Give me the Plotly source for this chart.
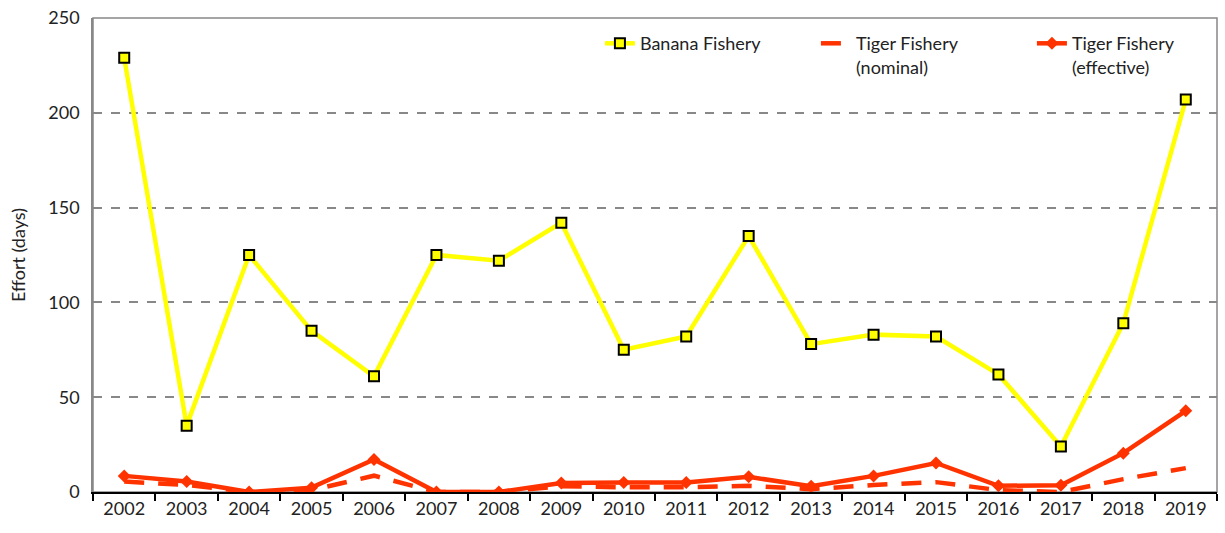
import plotly.graph_objects as go

years = [str(y) for y in range(2002, 2020)]
banana = [229, 35, 125, 85, 61, 125, 122, 142, 75, 82, 135, 78, 83, 82, 62, 24, 89, 207]
tiger_nominal = [5.5, 3.7, 0, 1, 8.6, 0, 0, 3, 2.5, 2.5, 3.3, 1.5, 3.7, 5.2, 1, 0, 6.8, 12.6]
tiger_effective = [8.5, 5.5, 0, 2.3, 17.2, 0, 0, 4.8, 5, 5, 8, 3, 8.5, 15.3, 3.3, 3.5, 20.5, 42.8]

font_family = "Lato, 'Noto Sans', sans-serif"

fig = go.Figure()
fig.add_trace(go.Scatter(
    x=years, y=banana, name="Banana Fishery", mode="lines+markers",
    line=dict(color="#FFFF00", width=4.5),
    marker=dict(symbol="square", size=10, color="#FFFF00", line=dict(color="black", width=2)),
))
fig.add_trace(go.Scatter(
    x=years, y=tiger_nominal, name="Tiger Fishery<br>(nominal)", mode="lines",
    line=dict(color="#FF3300", width=4.5, dash="20px,14px"),
))
fig.add_trace(go.Scatter(
    x=years, y=tiger_effective, name="Tiger Fishery<br>(effective)", mode="lines+markers",
    line=dict(color="#FF3300", width=4.5),
    marker=dict(symbol="diamond", size=10, color="#FF3300"),
))

fig.update_layout(
    width=1225, height=533,
    margin=dict(l=93, r=8, t=18, b=41, autoexpand=False),
    paper_bgcolor="white", plot_bgcolor="white",
    font=dict(family=font_family, size=18, color="#222222"),
    showlegend=True,
    legend=dict(orientation="h", x=0.451, xanchor="left", y=0.985, yanchor="top",
                bgcolor="rgba(0,0,0,0)", font=dict(size=18), traceorder="normal",
                valign="top", entrywidth=171),
    shapes=[dict(type="rect", xref="paper", yref="paper", x0=0, x1=1, y0=0, y1=1,
                 line=dict(color="#888888", width=1.5), layer="below")],
)
fig.update_xaxes(
    type="category", range=[-0.5, 17.5], showline=True, linecolor="black", linewidth=1.5,
    automargin=False, ticks="outside", tickson="boundaries", ticklen=7, tickcolor="black",
    tickwidth=1.5, showgrid=False, tickfont=dict(size=18),
)
fig.update_yaxes(
    range=[0, 250], dtick=50, showline=True, linecolor="#888888", linewidth=1.5,
    showgrid=True, gridcolor="#888888", griddash="dash", gridwidth=1.5, automargin=False,
    zeroline=False, ticks="", tickfont=dict(size=18), ticklabelstandoff=8,
    title=dict(text="Effort (days)", font=dict(size=18), standoff=18),
)

fig.write_html("out.html", config={"displayModeBar": False},
               post_script="document.body.style.margin='0';")
